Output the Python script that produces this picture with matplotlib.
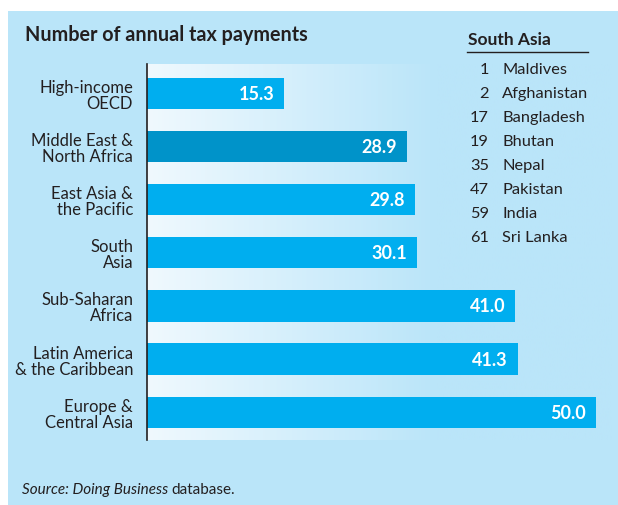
import matplotlib
matplotlib.use("Agg")
import matplotlib.pyplot as plt
import numpy as np
from matplotlib.colors import LinearSegmentedColormap
from matplotlib.patches import Rectangle

# data
regions = ["High-income\nOECD", "Middle East &\nNorth Africa", "East Asia &\nthe Pacific",
           "South\nAsia", "Sub-Saharan\nAfrica", "Latin America\n& the Caribbean",
           "Europe &\nCentral Asia"]
payments = [15.3, 28.9, 29.8, 30.1, 41.0, 41.3, 50.0]
highlight = "Middle East &\nNorth Africa"

sa_ranks = [1, 2, 17, 19, 35, 47, 59, 61]
sa_countries = ["Maldives", "Afghanistan", "Bangladesh", "Bhutan", "Nepal",
                "Pakistan", "India", "Sri Lanka"]

W, H = 618, 506
panel = "#bae5f9"
bar_col = "#00aeef"
dark_col = "#0093c9"
txt = "#231f20"

plt.rcParams['font.family'] = ['Lato', 'DejaVu Sans']

fig = plt.figure(figsize=(W / 100, H / 100), dpi=100)
fig.patch.set_facecolor("white")
fig.patches.append(Rectangle((8 / W, 0), 1, 1 - 12 / H, transform=fig.transFigure,
                             facecolor=panel, edgecolor="none", zorder=-5))

# axes in pixel terms
x0, x1 = 147, 612
y_top, y_bot = 65, 441
ax = fig.add_axes([x0 / W, 1 - y_bot / H, (x1 - x0) / W, (y_bot - y_top) / H])
ax.set_facecolor("none")
ax.set_zorder(1)

px_per_unit = 8.98
xmax = (x1 - x0) / px_per_unit
ax.set_xlim(0, xmax)
ax.set_ylim(6.52, -0.55)

# background gradient
cmap = LinearSegmentedColormap.from_list("bg", [(0, "#f0f9fe"), (0.62, panel), (1, panel)])
grad = np.linspace(0, 1, 256).reshape(1, -1)
ax.imshow(grad, cmap=cmap, extent=(0, xmax, 6.52, -0.55), aspect="auto", zorder=0)

ypos = np.arange(len(regions))
colors = [dark_col if r == highlight else bar_col for r in regions]
ax.barh(ypos, payments, height=0.59, color=colors, zorder=2)
for y, v in zip(ypos, payments):
    ax.text(v - 1.1, y, f"{v:.1f}", ha="right", va="center", color="white",
            fontsize=13, fontweight="bold", zorder=3)

ax.set_yticks(ypos)
ax.set_yticklabels(regions, fontsize=12, color=txt, linespacing=1.0)
ax.tick_params(axis="y", length=0, pad=10)
ax.set_xticks([])
for s in ["top", "right", "bottom"]:
    ax.spines[s].set_visible(False)
ax.spines["left"].set_color(txt)
ax.spines["left"].set_linewidth(1.2)
ax.spines["left"].set_zorder(4)

# title
fig.text(25 / W, 1 - 35 / H, "Number of annual tax payments", fontsize=14.2,
         fontweight="bold", color=txt, ha="left", va="center")

# South Asia ranking list
fig.text(468 / W, 1 - 40 / H, "South Asia", fontsize=12.5, fontweight="bold",
         color=txt, ha="left", va="center")
fig.add_artist(plt.Line2D([467 / W, 588 / W], [1 - 53 / H, 1 - 53 / H],
                          color=txt, linewidth=1.0))
for i, (r, c) in enumerate(zip(sa_ranks, sa_countries)):
    yy = 1 - (70 + 24 * i) / H
    fig.text(489 / W, yy, str(r), fontsize=11.8, color=txt, ha="right", va="center")
    fig.text(502 / W, yy, c, fontsize=11.8, color=txt, ha="left", va="center")

# source
t = fig.text(22 / W, 1 - 490 / H, "Source: Doing Business", fontsize=11,
             style="italic", color=txt, ha="left", va="center")
fig.canvas.draw()
bb = t.get_window_extent()
fig.text(bb.x1 / W + 3 / W, 1 - 490 / H, "database.", fontsize=11,
         color=txt, ha="left", va="center")

fig.savefig("out.png", dpi=100)
